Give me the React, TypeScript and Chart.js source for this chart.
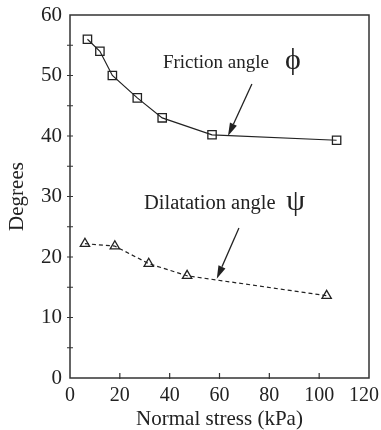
import React, { useEffect, useRef } from 'react';
import { Chart, registerables } from 'chart.js';

Chart.register(...registerables);

// ---- data ----
const frictionStress = [7, 12, 17, 27, 37, 57, 107];
const frictionAngle = [56, 54, 50, 46.3, 43, 40.2, 39.3];
const dilatationStress = [6, 18, 31.6, 47, 103];
const dilatationAngle = [22.2, 21.8, 18.9, 16.9, 13.6];

const xTickStep = 20;
const yTickStep = 5; // minor ticks every 5, labels every 10
const yLabelStep = 10;

const frictionLabel = 'Friction angle';
const frictionSymbol = '\u03D5';
const dilatationLabel = 'Dilatation angle';
const dilatationSymbol = '\u03C8';
const xTitle = 'Normal stress (kPa)';
const yTitle = 'Degrees';

const FONT = '"Liberation Serif", "Times New Roman", serif';
const INK = '#222';

// annotation placement (data units)
const annotations = [
  { text: frictionLabel, size: 19, sym: frictionSymbol, tx: 37.3, ty: 51.2, sx: 86.3, arrowFrom: [73.0, 48.6], arrowTo: [63.4, 40.0] },
  { text: dilatationLabel, size: 20.5, sym: dilatationSymbol, tx: 29.7, ty: 27.9, sx: 86.8, arrowFrom: [67.8, 24.8], arrowTo: [58.9, 16.4] },
];

export default function App() {
  const ref = useRef<HTMLCanvasElement>(null);

  useEffect(() => {
    const canvas = ref.current;
    if (!canvas) return;

    const overlay = {
      id: 'overlay',
      afterDraw(chart: any) {
        const { ctx, chartArea: a } = chart;
        const x = chart.scales.x;
        const y = chart.scales.y;
        ctx.save();
        // frame
        ctx.strokeStyle = '#333';
        ctx.lineWidth = 1.5;
        ctx.strokeRect(a.left, a.top, a.right - a.left, a.bottom - a.top);
        // tick marks
        ctx.lineWidth = 1.2;
        ctx.beginPath();
        y.ticks.forEach((t: any) => {
          const py = y.getPixelForValue(t.value);
          if (py <= a.top + 1 || py >= a.bottom - 1) return;
          ctx.moveTo(a.left - 3, py);
          ctx.lineTo(a.left + 3, py);
        });
        x.ticks.forEach((t: any) => {
          const px = x.getPixelForValue(t.value);
          if (px <= a.left + 1 || px >= a.right - 1) return;
          ctx.moveTo(px, a.bottom + 1);
          ctx.lineTo(px, a.bottom - 5);
        });
        ctx.stroke();

        // annotations
        ctx.fillStyle = INK;
        ctx.strokeStyle = INK;
        ctx.textBaseline = 'alphabetic';
        ctx.textAlign = 'left';
        annotations.forEach((an) => {
          ctx.font = `${an.size}px ${FONT}`;
          ctx.fillText(an.text, x.getPixelForValue(an.tx), y.getPixelForValue(an.ty));
          ctx.font = `30px ${FONT}`;
          ctx.fillText(an.sym, x.getPixelForValue(an.sx), y.getPixelForValue(an.ty) + 1);

          const x0 = x.getPixelForValue(an.arrowFrom[0]);
          const y0 = y.getPixelForValue(an.arrowFrom[1]);
          const x1 = x.getPixelForValue(an.arrowTo[0]);
          const y1 = y.getPixelForValue(an.arrowTo[1]);
          const ang = Math.atan2(y1 - y0, x1 - x0);
          const hl = 13;
          const hw = 3.8;
          const bx = x1 - Math.cos(ang) * hl;
          const by = y1 - Math.sin(ang) * hl;
          ctx.lineWidth = 1.3;
          ctx.beginPath();
          ctx.moveTo(x0, y0);
          ctx.lineTo(bx, by);
          ctx.stroke();
          ctx.beginPath();
          ctx.moveTo(x1, y1);
          ctx.lineTo(bx - Math.sin(ang) * hw, by + Math.cos(ang) * hw);
          ctx.lineTo(bx + Math.sin(ang) * hw, by - Math.cos(ang) * hw);
          ctx.closePath();
          ctx.fill();
        });
        ctx.restore();
      },
    };

    const chart = new Chart(canvas, {
      type: 'scatter',
      data: {
        datasets: [
          {
            label: frictionLabel,
            data: frictionStress.map((v, i) => ({ x: v, y: frictionAngle[i] })),
            showLine: true,
            borderColor: INK,
            borderWidth: 1.2,
            pointStyle: 'rect',
            pointRadius: 5.9,
            pointBorderWidth: 1.3,
            pointBorderColor: INK,
            pointBackgroundColor: 'rgba(0,0,0,0)',
          },
          {
            label: dilatationLabel,
            data: dilatationStress.map((v, i) => ({ x: v, y: dilatationAngle[i] })),
            showLine: true,
            borderColor: INK,
            borderWidth: 1.2,
            borderDash: [4, 3],
            pointStyle: 'triangle',
            pointRadius: 5.4,
            pointBorderWidth: 1.3,
            pointBorderColor: INK,
            pointBackgroundColor: 'rgba(0,0,0,0)',
          },
        ],
      },
      options: {
        animation: false,
        responsive: false,
        devicePixelRatio: 1,
        layout: { padding: { left: 0, right: 12, top: 15, bottom: 0 } },
        plugins: { legend: { display: false }, tooltip: { enabled: false } },
        scales: {
          x: {
            type: 'linear',
            min: 0,
            max: 120,
            ticks: {
              stepSize: xTickStep,
              callback: (v: any) => (Number(v) === 120 ? '120\u2002' : String(v)),
              font: { family: FONT, size: 20 },
              color: INK,
              padding: 6,
              maxRotation: 0,
              autoSkip: false,
            },
            grid: { display: false, drawTicks: false },
            border: { display: false },
            title: {
              display: true,
              text: xTitle,
              font: { family: FONT, size: 21, lineHeight: 1 },
              color: INK,
              padding: { top: 0, bottom: 0 },
            },
            afterFit(s: any) {
              s.height = 52;
              s.paddingLeft = 0;
              s.paddingRight = 0;
            },
          },
          y: {
            type: 'linear',
            min: 0,
            max: 60,
            ticks: {
              stepSize: yTickStep,
              callback: (v: any) => (Number(v) % yLabelStep === 0 ? String(v) : ''),
              font: { family: FONT, size: 21 },
              color: INK,
              padding: 8,
              autoSkip: false,
            },
            grid: { display: false, drawTicks: false },
            border: { display: false },
            title: {
              display: true,
              text: yTitle,
              font: { family: FONT, size: 21, lineHeight: 1 },
              color: INK,
              padding: { top: 6.5, bottom: 0 },
            },
            afterFit(s: any) {
              s.width = 70;
              s.paddingTop = 0;
              s.paddingBottom = 0;
            },
          },
        },
      },
      plugins: [overlay],
    } as any);

    return () => chart.destroy();
  }, []);

  return (
    <div style={{ position: 'fixed', left: 0, top: 0, width: 381, height: 430, background: '#fff' }}>
      <canvas ref={ref} width={381} height={430} />
    </div>
  );
}
